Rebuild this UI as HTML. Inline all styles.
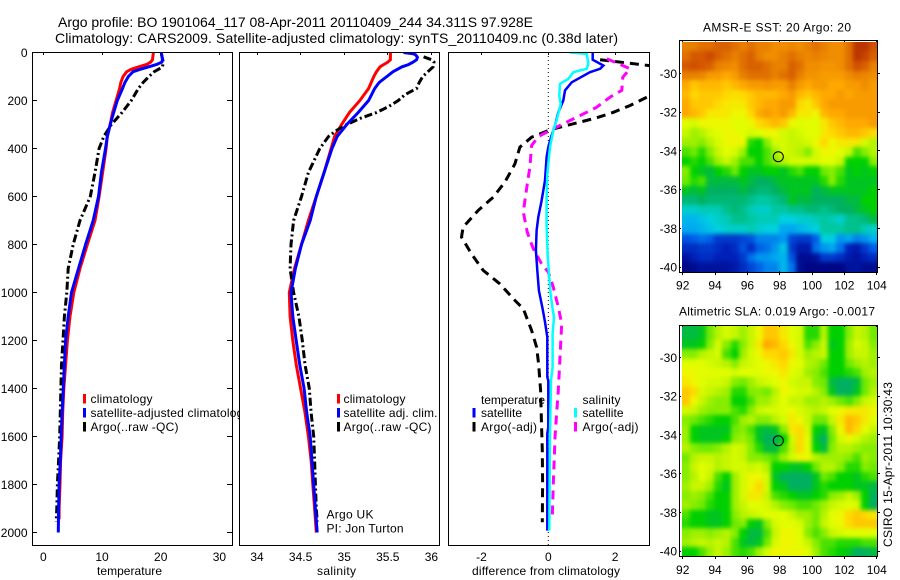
<!DOCTYPE html>
<html lang="en">
<head>
<meta charset="utf-8">
<title>Argo profile</title>
<style>
html,body{margin:0;padding:0;background:#fff;}
svg{display:block;font-family:"Liberation Sans",sans-serif;fill:#000;}
text{font-size:12px;fill:#000;}
.frame{fill:none;stroke:#000;stroke-width:1;shape-rendering:crispEdges;}
</style>
</head>
<body>
<svg id="chart" width="900" height="580" viewBox="0 0 900 580" xmlns="http://www.w3.org/2000/svg">
<defs>
<clipPath id="clip-p1"><rect x="32" y="52" width="200" height="493"/></clipPath>
<clipPath id="clip-p2"><rect x="239" y="52" width="200" height="493"/></clipPath>
<clipPath id="clip-p3"><rect x="448" y="52" width="201" height="493"/></clipPath>
<clipPath id="clip-legend1"><rect x="0" y="380" width="239" height="60"/></clipPath>
<clipPath id="clip-map1"><rect x="682" y="42" width="195" height="230"/></clipPath>
<clipPath id="clip-map2"><rect x="682" y="326" width="195" height="230"/></clipPath>
<filter id="map-smooth" filterUnits="userSpaceOnUse" x="650" y="0" width="250" height="580" color-interpolation-filters="sRGB"><feGaussianBlur stdDeviation="2"/></filter>
</defs>
<text x="58" y="27" style="font-size:14px" textLength="475" lengthAdjust="spacing">Argo profile: BO 1901064_117 08-Apr-2011 20110409_244 34.311S 97.928E</text>
<text x="55" y="43" style="font-size:14px" textLength="563" lengthAdjust="spacing">Climatology: CARS2009. Satellite-adjusted climatology: synTS_20110409.nc (0.38d later)</text>

<g clip-path="url(#clip-map1)"><g id="map1" filter="url(#map-smooth)"></g></g>
<g clip-path="url(#clip-map2)"><g id="map2" filter="url(#map-smooth)"></g></g>
<g id="axes"></g>
<g id="series"></g>

<rect class="frame" x="32.5" y="52.5" width="200" height="493"/>
<rect class="frame" x="239.5" y="52.5" width="200" height="493"/>
<rect class="frame" x="448.5" y="52.5" width="201" height="493"/>
<rect class="frame" x="679.5" y="40.5" width="198" height="232"/>
<rect class="frame" x="679.5" y="325.5" width="198" height="231"/>

<text x="97" y="575" textLength="65" lengthAdjust="spacing">temperature</text>
<text x="317" y="575" textLength="39" lengthAdjust="spacing">salinity</text>
<text x="472" y="575" textLength="148" lengthAdjust="spacing">difference from climatology</text>

<g>
<rect x="83" y="394" width="3" height="9.5" fill="#f00"/>
<text x="90.5" y="403" textLength="62" lengthAdjust="spacing">climatology</text>
<rect x="83" y="408" width="3" height="9.5" fill="#00f"/>
<text x="90.5" y="417" clip-path="url(#clip-legend1)" textLength="159" lengthAdjust="spacing">satellite-adjusted climatology</text>
<rect x="83" y="422" width="3" height="9.5" fill="#000"/>
<text x="90.5" y="431" textLength="88" lengthAdjust="spacing">Argo(..raw -QC)</text>
</g>
<g>
<rect x="337" y="394" width="3" height="9.5" fill="#f00"/>
<text x="343.5" y="403" textLength="62" lengthAdjust="spacing">climatology</text>
<rect x="337" y="408" width="3" height="9.5" fill="#00f"/>
<text x="343.5" y="417" textLength="94" lengthAdjust="spacing">satellite adj. clim.</text>
<rect x="337" y="422" width="3" height="9.5" fill="#000"/>
<text x="343.5" y="431" textLength="88" lengthAdjust="spacing">Argo(..raw -QC)</text>
<text x="326.5" y="518.5" textLength="47" lengthAdjust="spacing">Argo UK</text>
<text x="326.5" y="532.5" textLength="77" lengthAdjust="spacing">PI: Jon Turton</text>
</g>
<g>
<text x="481" y="404" textLength="64" lengthAdjust="spacing">temperature</text>
<rect x="472.5" y="408" width="3" height="9.5" fill="#00f"/>
<text x="481" y="417" textLength="41" lengthAdjust="spacing">satellite</text>
<rect x="472.5" y="422" width="3" height="9.5" fill="#000"/>
<text x="481" y="431" textLength="56" lengthAdjust="spacing">Argo(-adj)</text>
<text x="582.5" y="404" textLength="38" lengthAdjust="spacing">salinity</text>
<rect x="574" y="408" width="3" height="9.5" fill="#0ff"/>
<text x="582.5" y="417" textLength="41" lengthAdjust="spacing">satellite</text>
<rect x="574" y="422" width="3" height="9.5" fill="#f0f"/>
<text x="582.5" y="431" textLength="56" lengthAdjust="spacing">Argo(-adj)</text>
</g>

<text x="703" y="31.5" textLength="148" lengthAdjust="spacing">AMSR-E SST: 20 Argo: 20</text>
<text x="679" y="315.5" textLength="196" lengthAdjust="spacing">Altimetric SLA: 0.019 Argo: -0.0017</text>
<text transform="translate(892 547) rotate(-90)" x="0" y="0" textLength="165" lengthAdjust="spacing">CSIRO 15-Apr-2011 10:30:43</text>
<circle cx="778.3" cy="156.7" r="5" fill="none" stroke="#000" stroke-width="1"/>
<circle cx="778.3" cy="440.7" r="5" fill="none" stroke="#000" stroke-width="1"/>
</svg>

<script>
// ---- axis tick data ----
const depthTicks = [0,200,400,600,800,1000,1200,1400,1600,1800,2000];
const tempTicks = [0,10,20,30];
const salTicks = [34,34.5,35,35.5,36];
const salTickLabels = ['34','34.5','35','35.5','36'];
const diffTicks = [-2,0,2];
const lonTicks = [92,94,96,98,100,102,104];
const latTicks = [-30,-32,-34,-36,-38,-40];

// ---- temperature panel ----
const tempClimDepth = [0,30,40,50,60,70,80,100,125,150,200,250,300,350,400,500,600,700,800,900,1000,1100,1200,1300,1400,1500,1600,1700,1800,1900,1945];
const tempClim = [18.75,18.6,18.3,17.6,16.2,15,14.2,13.6,13.2,13,12.4,11.8,11.4,10.9,10.7,10.1,9.5,8.8,7.5,6.25,5.2,4.55,4.1,3.8,3.5,3.3,3.2,2.95,2.85,2.7,2.7];
const tempSatDepth = [0,30,40,50,60,70,80,100,125,150,200,250,300,350,400,500,600,700,800,900,1000,1100,1200,1300,1400,1500,1600,1700,1800,1900,2000];
const tempSat = [20.1,20.3,20.2,19.3,17.9,16.5,15.3,14.5,13.9,13.5,12.6,12,11.4,10.9,10.6,9.9,9.4,8.5,7.2,6,4.8,4.25,3.8,3.6,3.4,3.2,3.05,2.9,2.7,2.6,2.55];
const tempArgoDepth = [5,40,60,80,100,125,150,200,250,300,350,400,500,600,700,800,900,1000,1100,1200,1300,1400,1500,1600,1700,1800,1900,1955];
const tempArgo = [20.1,20.45,20.3,18.9,18,17,16.2,15,13.4,11.6,10.3,9.5,8.8,8,6.25,5.1,4.25,4,3.6,3.35,3.1,3,2.9,2.8,2.6,2.4,2.3,2.2];

// ---- salinity panel ----
const salClimDepth = [0,30,40,60,80,100,125,150,200,250,300,350,400,500,600,700,800,900,1000,1100,1200,1300,1400,1500,1600,1700,1800,1900,2000];
const salClim = [35.53,35.53,35.5,35.41,35.37,35.34,35.31,35.28,35.18,35.06,34.97,34.89,34.85,34.77,34.68,34.59,34.51,34.43,34.37,34.38,34.41,34.45,34.5,34.55,34.59,34.62,34.64,34.66,34.68];
const salSatDepth = [0,5,10,20,30,40,50,60,80,100,125,150,200,250,300,350,400,500,600,700,800,900,1000,1100,1200,1300,1400,1500,1600,1700,1800,1900,2000];
const salSat = [35.68,35.79,35.82,35.84,35.83,35.79,35.74,35.66,35.56,35.49,35.4,35.35,35.28,35.16,35.03,34.92,34.86,34.77,34.68,34.61,34.51,34.44,34.39,34.41,34.45,34.49,34.54,34.57,34.61,34.63,34.65,34.67,34.69];
const salArgoDepth = [18,30,40,60,80,100,125,150,175,200,225,250,275,300,325,350,400,500,600,700,800,900,1000,1100,1200,1300,1400,1500,1600,1700,1800,1900,1955];
const salArgo = [35.91,36,36.03,36.02,35.96,35.9,35.86,35.83,35.7,35.62,35.51,35.37,35.18,35.03,34.91,34.82,34.72,34.59,34.51,34.42,34.39,34.38,34.42,34.48,34.52,34.55,34.6,34.62,34.65,34.66,34.67,34.68,34.69];

// ---- difference panel ----
const diffTempSatDepth = [0,30,54,68,82,124,158,200,249,304,346,394,436,533,617,686,742,825,908,992,1068,1123,1186,1353,1367,1561,1589,1992];
const diffTempSat = [1.33,1.33,1.65,1.55,1.25,0.7,0.5,0.45,0.3,0.2,0.1,0,-0.05,-0.1,-0.2,-0.3,-0.35,-0.37,-0.33,-0.28,-0.17,-0.1,-0.03,-0.03,0,0,-0.03,-0.03];
const diffSalSatDepth = [0,6,47,68,82,110,130,179,214,283,325,394,506,603,714,839,922,1006,1068,1102,1172,1311,1367,1589,1992];
const diffSalSat = [0.63,1.15,1.2,1.15,0.75,0.6,0.35,0.33,0.37,0.25,0.15,0.05,-0.03,-0.05,-0.05,-0.02,0.02,0.07,0.13,0.17,0.13,0.13,0.08,0.05,0.03];
const diffTempArgoDepth = [30,54,75,100,150,183,221,249,272,290,308,322,353,394,464,540,603,658,728,769,839,908,964,1033,1068,1158,1228,1297,1408,1519,1658,1797,1957];
const diffTempArgo = [1.55,3,4,4.4,3.5,3,2.45,1.95,1.45,0.95,0.45,0.05,-0.5,-0.85,-1,-1.3,-1.65,-2.1,-2.55,-2.6,-2.3,-1.95,-1.45,-1,-0.75,-0.5,-0.35,-0.29,-0.23,-0.21,-0.18,-0.17,-0.18];
const diffSalArgoDepth = [26,68,103,158,186,228,263,297,350,388,478,547,617,665,749,818,881,915,978,1061,1130,1269,1408,1505,1603,1686,1797,1936];
const diffSalArgo = [1.75,2.45,2.23,2.2,1.85,1.45,0.95,0.45,-0.3,-0.5,-0.55,-0.63,-0.7,-0.75,-0.63,-0.45,-0.2,0,0.15,0.3,0.4,0.35,0.3,0.25,0.2,0.18,0.15,0.12];

// ---- map grids: colour index 0-100, north to south, west to east ----
const sstGrid = [
[88,88,90,90,92,92,90,88,90,88,88,86,86,87,86,88,90,88,86,86,90,98,98,94],
[90,93,93,95,92,90,88,90,92,88,86,86,88,90,88,87,88,87,86,86,90,98,96,92],
[93,94,93,92,88,87,86,90,92,92,90,88,88,92,90,86,86,85,85,86,90,94,92,88],
[88,88,87,84,84,82,84,88,90,90,90,88,90,92,88,85,85,84,84,84,86,88,87,86],
[82,78,80,80,80,78,80,82,84,84,85,84,84,88,84,82,84,84,82,82,84,84,86,84],
[80,76,78,78,78,76,75,76,78,80,80,80,82,84,80,78,80,82,82,84,82,84,84,84],
[82,78,78,78,76,74,74,74,78,80,82,82,84,84,76,74,78,82,84,84,84,84,84,84],
[82,80,78,74,74,74,72,72,76,82,84,82,84,80,74,74,72,80,82,82,84,84,84,84],
[70,68,72,72,72,72,70,70,72,76,78,80,78,72,70,70,70,74,78,80,82,82,82,84],
[66,62,64,68,70,72,72,70,68,70,72,72,68,66,68,70,70,74,76,78,80,80,78,76],
[62,62,60,64,68,72,72,72,54,52,60,68,68,66,66,68,72,76,72,74,74,74,68,64],
[56,58,54,60,66,70,68,62,52,52,56,62,68,66,64,60,68,72,72,70,66,56,60,64],
[52,54,52,56,62,66,62,56,56,52,56,60,64,68,68,68,68,70,70,66,52,52,52,60],
[60,52,50,48,52,54,58,52,50,50,52,52,50,54,56,52,52,58,60,56,50,52,50,52],
[58,54,56,48,48,48,48,50,48,46,46,48,50,50,50,50,50,54,60,54,50,50,50,50],
[50,48,50,46,46,46,46,48,46,44,44,46,48,50,50,50,46,48,50,50,50,50,50,52],
[44,44,46,44,44,44,44,44,42,40,40,42,44,50,48,48,46,46,46,46,48,48,52,52],
[36,36,38,38,38,42,44,42,38,36,36,40,40,42,42,44,44,42,44,46,46,48,50,52],
[30,30,32,34,36,38,42,42,40,38,38,38,34,34,36,36,38,40,38,36,42,42,44,48],
[28,28,30,32,34,36,36,36,38,36,34,34,28,28,30,32,34,40,40,40,42,42,38,36],
[18,20,22,20,14,14,14,16,18,24,24,24,26,16,14,14,20,34,34,26,28,24,26,30],
[12,12,14,14,12,10,12,18,12,20,22,26,32,14,8,8,22,26,28,22,10,8,14,20],
[6,10,12,12,10,10,10,14,22,26,26,28,30,18,4,4,6,14,14,12,8,6,10,12],
[2,4,6,6,6,6,8,12,16,20,24,24,30,22,4,2,2,2,2,2,6,6,4,4]
];
const slaGrid = [
[48,48,50,58,64,68,66,62,66,72,78,78,74,70,68,54,54,64,52,52,60,66,64,58],
[50,50,52,60,68,60,54,60,66,74,82,80,76,72,68,56,60,66,50,52,62,68,66,60],
[60,60,64,66,68,56,52,62,68,72,76,76,78,74,68,62,64,66,52,52,62,66,66,62],
[70,70,70,68,66,64,60,66,68,70,72,74,76,72,70,64,62,58,52,52,58,62,64,62],
[72,72,70,70,70,70,68,70,70,70,72,72,74,70,68,62,60,56,52,52,54,56,62,64],
[74,72,70,68,68,66,60,58,62,66,68,70,72,68,66,66,60,58,48,46,46,48,58,62],
[78,76,68,66,64,62,54,54,60,60,58,64,72,70,68,68,64,60,50,46,46,50,58,64],
[78,72,66,62,60,60,52,52,56,62,62,66,70,66,66,62,62,64,62,58,56,60,66,68],
[68,66,62,60,60,60,56,54,60,66,68,68,70,72,68,66,64,66,70,72,74,74,74,72],
[60,58,56,54,52,52,56,62,64,60,60,64,68,74,72,66,58,58,66,74,80,78,74,70],
[62,52,50,50,50,50,58,60,56,50,48,50,60,74,76,68,52,50,60,72,80,76,70,66],
[62,52,50,50,50,52,60,62,58,50,46,46,52,68,76,70,50,46,58,68,72,68,64,62],
[64,60,58,58,60,64,68,66,60,54,48,48,56,66,76,70,52,48,60,64,64,62,60,60],
[58,64,66,66,64,66,68,66,60,60,58,56,62,68,72,72,64,62,62,62,60,56,62,60],
[60,66,70,68,64,66,68,68,66,68,64,52,52,50,50,52,58,64,64,60,54,54,60,58],
[60,64,70,66,56,52,62,68,72,72,68,50,46,46,46,46,50,58,56,52,52,50,54,56],
[62,66,66,62,54,50,62,68,72,76,68,52,50,46,46,46,50,54,52,52,52,50,50,48],
[60,62,60,56,52,52,62,68,74,74,66,56,54,52,50,50,52,54,60,62,66,62,52,46],
[62,60,58,54,52,52,62,66,70,70,68,64,60,58,56,56,58,62,66,68,70,68,52,46],
[56,52,52,50,50,52,60,64,66,68,70,70,70,66,62,62,58,64,70,72,76,78,76,74],
[54,52,52,50,50,52,58,60,52,50,60,68,70,70,68,62,58,66,70,72,76,78,78,78],
[60,62,62,60,62,64,60,52,48,48,56,66,72,72,70,60,56,60,66,68,70,70,70,70],
[62,64,66,64,66,64,56,50,48,50,58,68,72,72,70,66,60,56,56,54,54,54,56,56],
[52,52,56,62,66,62,56,54,56,62,68,72,72,72,72,70,62,56,54,52,50,46,46,48]
];

// ---- scales ----
const NS = 'http://www.w3.org/2000/svg';
const yDepth = d => 52.5 + d * 0.24;
const xTemp = v => 43.3 + v * 5.87;
const xSal = v => 257 + (v - 34) * 87.2;
const xDiff = v => 548.3 + v * 33.4;
const xLon = v => 682.7 + (v - 92) * 16.17;
const yLat1 = v => 73.3 + (-v - 30) * 19.37;
const yLat2 = v => 357.3 + (-v - 30) * 19.37;

function mk(tag, attrs, parent) {
  const el = document.createElementNS(NS, tag);
  for (const k in attrs) el.setAttribute(k, attrs[k]);
  parent.appendChild(el);
  return el;
}

// colour scale for both maps
const cmapStops = [[0,'#000078'],[10,'#0020b8'],[20,'#0060e8'],[28,'#00a8f0'],[34,'#00d0e0'],[40,'#00c8a0'],[46,'#00b060'],[52,'#00d000'],[58,'#70ea00'],[65,'#c0f400'],[71,'#e8ff00'],[76,'#ffd800'],[82,'#ffa800'],[88,'#e88000'],[94,'#d05000'],[100,'#b02800']];
function hex(c){return [1,3,5].map(i=>parseInt(c.substr(i,2),16));}
function colour(v){
  let i=0;
  while(i<cmapStops.length-2 && v>cmapStops[i+1][0]) i++;
  const a=cmapStops[i],b=cmapStops[i+1];
  const t=Math.max(0,Math.min(1,(v-a[0])/(b[0]-a[0])));
  const ca=hex(a[1]),cb=hex(b[1]);
  return 'rgb('+ca.map((x,k)=>Math.round(x+(cb[k]-x)*t)).join(',')+')';
}

function drawMap(parent, grid, lonA, lonB, latA, latB, yLat, cellName) {
  const rows = grid.length;
  const bleed = 12;
  grid.forEach((row, r) => {
    const cols = row.length;
    row.forEach((v, c) => {
      let x0 = Math.round(xLon(lonA + (lonB - lonA) * c / cols));
      let x1 = Math.round(xLon(lonA + (lonB - lonA) * (c + 1) / cols));
      let y0 = Math.round(yLat(latA + (latB - latA) * r / rows));
      let y1 = Math.round(yLat(latA + (latB - latA) * (r + 1) / rows));
      if (c === 0) x0 -= bleed;
      if (c === cols - 1) x1 += bleed;
      if (r === 0) y0 -= bleed;
      if (r === rows - 1) y1 += bleed;
      const cell = mk('rect', {x:x0, y:y0, width:x1-x0, height:y1-y0, fill:colour(v), 'shape-rendering':'crispEdges'}, parent);
      
      
    });
  });
}
drawMap(document.getElementById('map1'), sstGrid, 91.94, 104.02, -28.37, -40.26, yLat1, 'sst-cell');
drawMap(document.getElementById('map2'), slaGrid, 91.94, 104.02, -28.6, -40.3, yLat2, 'sla-cell');

// ---- axes ----
const axes = document.getElementById('axes');
function tick(x1, y1, x2, y2, name) {
  const t = mk('line', {x1:x1, y1:y1, x2:x2, y2:y2, stroke:'#000', 'stroke-width':1, 'shape-rendering':'crispEdges'}, axes);
  
  
}
function label(x, y, str, anchor, name) {
  const t = mk('text', {x:x, y:y, 'text-anchor':anchor}, axes);
  t.textContent = str;
  
  
}
depthTicks.forEach(d => {
  const y = Math.floor(yDepth(d)) + 0.5;
  tick(32, y, 37, y, 'depth-tick-left');
  tick(227, y, 232, y, 'depth-tick-right');
  label(27.5, yDepth(d) + 4.5, String(d), 'end', 'depth-tick-label');
});
tempTicks.forEach(v => {
  const x = Math.floor(xTemp(v)) + 0.5;
  tick(x, 52, x, 55, 'temperature-tick');
  label(xTemp(v), 561, String(v), 'middle', 'temperature-tick-label');
});
salTicks.forEach((v, i) => {
  const x = Math.floor(xSal(v)) + 0.5;
  tick(x, 52, x, 55, 'salinity-tick');
  label(xSal(v), 561, salTickLabels[i], 'middle', 'salinity-tick-label');
});
diffTicks.forEach(v => {
  const x = Math.floor(xDiff(v)) + 0.5;
  tick(x, 52, x, 55, 'difference-tick');
  label(xDiff(v), 561, String(v), 'middle', 'difference-tick-label');
});
lonTicks.forEach(v => {
  const x = Math.floor(xLon(v)) + 0.5;
  tick(x, 40, x, 42, 'sst-lon-tick');
  tick(x, 271, x, 275, 'sst-lon-tick');
  tick(x, 325, x, 327, 'sla-lon-tick');
  tick(x, 556, x, 559, 'sla-lon-tick');
  label(xLon(v), 289.5, String(v), 'middle', 'sst-lon-label');
  label(xLon(v), 574, String(v), 'middle', 'sla-lon-label');
});
latTicks.forEach(v => {
  const y1 = Math.floor(yLat1(v)) + 0.5;
  const y2 = Math.floor(yLat2(v)) + 0.5;
  tick(679, y1, 681, y1, 'sst-lat-tick');
  tick(877, y1, 880, y1, 'sst-lat-tick');
  tick(679, y2, 681, y2, 'sla-lat-tick');
  tick(877, y2, 880, y2, 'sla-lat-tick');
  label(677, yLat1(v) + 4.5, String(v), 'end', 'sst-lat-label');
  label(677, yLat2(v) + 4.5, String(v), 'end', 'sla-lat-label');
});

// ---- series ----
const seriesGroup = document.getElementById('series');
function line(xs, ys, xFn, clipId, colourStr, width, dash) {
  const d = xs.map((v, i) => (i ? 'L' : 'M') + xFn(v).toFixed(1) + ' ' + yDepth(ys[i]).toFixed(1)).join('');
  const attrs = {d:d, fill:'none', stroke:colourStr, 'stroke-width':width, 'clip-path':'url(#' + clipId + ')'};
  if (dash) attrs['stroke-dasharray'] = dash;
  return mk('path', attrs, seriesGroup);
}
const DASHDOT = '8 3 2 3';
const DASHED = '9 6';

const s1 = line(tempClim, tempClimDepth, xTemp, 'clip-p1', '#f00', 3);


const s2 = line(tempArgo, tempArgoDepth, xTemp, 'clip-p1', '#000', 3, DASHDOT);


const s3 = line(tempSat, tempSatDepth, xTemp, 'clip-p1', '#00f', 3);



const s4 = line(salClim, salClimDepth, xSal, 'clip-p2', '#f00', 3);


const s5 = line(salArgo, salArgoDepth, xSal, 'clip-p2', '#000', 3, DASHDOT);


const s6 = line(salSat, salSatDepth, xSal, 'clip-p2', '#00f', 3);



const zero = mk('line', {x1:xDiff(0), x2:xDiff(0), y1:52, y2:545, stroke:'#000', 'stroke-width':1, 'stroke-dasharray':'1 3'}, seriesGroup);


const s7 = line(diffTempArgo, diffTempArgoDepth, xDiff, 'clip-p3', '#000', 3, DASHED);


const s8 = line(diffSalArgo, diffSalArgoDepth, xDiff, 'clip-p3', '#f0f', 3, DASHED);


const s9 = line(diffTempSat, diffTempSatDepth, xDiff, 'clip-p3', '#00f', 2.5);


const s10 = line(diffSalSat, diffSalSatDepth, xDiff, 'clip-p3', '#0ff', 2.5);


</script>
</body>
</html>
